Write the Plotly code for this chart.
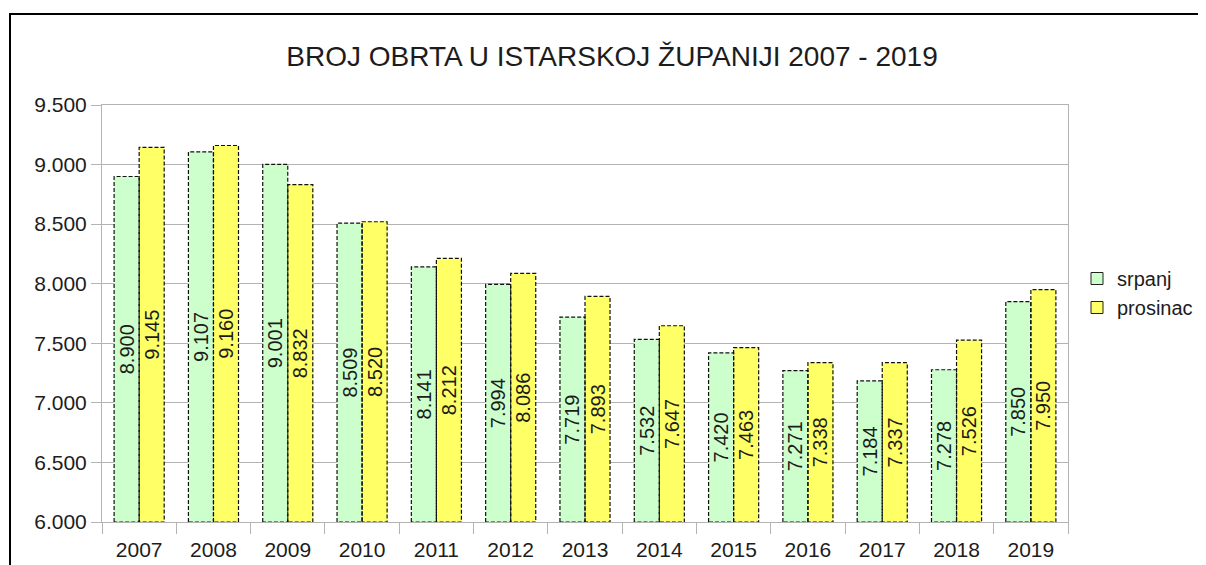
import plotly.graph_objects as go

years = ["2007", "2008", "2009", "2010", "2011", "2012", "2013",
         "2014", "2015", "2016", "2017", "2018", "2019"]
srpanj = [8900, 9107, 9001, 8509, 8141, 7994, 7719, 7532, 7420, 7271, 7184, 7278, 7850]
prosinac = [9145, 9160, 8832, 8520, 8212, 8086, 7893, 7647, 7463, 7338, 7337, 7526, 7950]
y_ticks = [6000, 6500, 7000, 7500, 8000, 8500, 9000, 9500]

FONT = "Liberation Sans"
TXT = "#1c1c1c"
GRID = "#b3b3b3"
W = 0.337
BASE = 6000

# the page body has an 8px margin: figure coords = page coords - 8
FIG_W, FIG_H = 1198, 557
L, T, R, B = 94, 97, 138, 43
PW = FIG_W - L - R
PH = FIG_H - T - B

idx = list(range(len(years)))

fig = go.Figure()

def outline(values, offset):
    xs, ys = [], []
    for i, v in zip(idx, values):
        x0 = i + offset
        x1 = x0 + W
        xs += [x0, x0, x1, x1, x0, None]
        ys += [BASE, v, v, BASE, BASE, None]
    return xs, ys

series = [("srpanj", srpanj, "#ccffcc", -W), ("prosinac", prosinac, "#ffff66", 0.0)]

for name, vals, color, off in series:
    fig.add_trace(go.Bar(
        x=idx, y=[v - BASE for v in vals], base=BASE, name=name,
        width=W, offset=off, showlegend=False,
        marker=dict(color=color, line=dict(width=0)),
        text=vals, texttemplate="%{text:,}", textposition="inside",
        insidetextanchor="middle", textangle=-90,
        textfont=dict(family=FONT, size=20, color=TXT),
        hoverinfo="skip",
    ))
    xs, ys = outline(vals, off)
    fig.add_trace(go.Scatter(
        x=xs, y=ys, mode="lines", showlegend=False, hoverinfo="skip",
        line=dict(color="#111111", width=1.2, dash="4px,2px"),
        connectgaps=False,
    ))

for name, vals, color, off in series:
    fig.add_trace(go.Scatter(
        x=[None], y=[None], mode="markers", name=name,
        marker=dict(symbol="square", size=12, color=color,
                    line=dict(color="#222222", width=1)),
    ))

fig.update_layout(
    width=FIG_W, height=FIG_H,
    margin=dict(l=L, r=R, t=T, b=B, autoexpand=False),
    paper_bgcolor="white", plot_bgcolor="white",
    separators=",.",
    barmode="overlay",
    uniformtext=dict(minsize=20, mode="show"),
    title=dict(text="BROJ OBRTA U ISTARSKOJ ŽUPANIJI 2007 - 2019",
               font=dict(family=FONT, size=28, color=TXT),
               x=(612 - 8) / FIG_W, xanchor="center", xref="container",
               y=1 - (56 - 8) / FIG_H, yanchor="middle", yref="container"),
    legend=dict(x=(1069 - L) / PW, xanchor="left",
                y=(FIG_H - B - 285) / PH, yanchor="middle",
                font=dict(family=FONT, size=20, color=TXT),
                itemwidth=30, bgcolor="rgba(0,0,0,0)"),
    showlegend=True,
    font=dict(family=FONT, color=TXT),
)

fig.update_xaxes(
    range=[-0.5, len(years) - 0.5],
    tickmode="array", tickvals=idx, ticktext=years,
    ticks="", showgrid=False, zeroline=False,
    tickfont=dict(family=FONT, size=21, color=TXT),
    ticklabelstandoff=9,
    showline=True, linecolor=GRID, linewidth=1, mirror=True,
    minor=dict(tickmode="linear", tick0=-0.5, dtick=1, ticks="outside",
               ticklen=11, tickcolor=GRID, tickwidth=1, showgrid=False),
    fixedrange=True,
)
fig.update_yaxes(
    range=[6000, 9500],
    tickmode="array", tickvals=y_ticks,
    tickformat=",d",
    ticks="outside", ticklen=10, tickcolor=GRID, tickwidth=1,
    showgrid=True, gridcolor=GRID, gridwidth=1,
    zeroline=False,
    showline=True, linecolor=GRID, linewidth=1, mirror=True,
    tickfont=dict(family=FONT, size=21, color=TXT),
    fixedrange=True,
)

# outer black frame of the original picture (page x=10, y=14)
fig.add_shape(type="rect", xref="paper", yref="paper",
              x0=(2 - L) / PW, x1=1.4, y0=-0.5, y1=(FIG_H - B - 6) / PH,
              line=dict(color="black", width=2), fillcolor="rgba(0,0,0,0)",
              layer="below")

fig.write_html("out.html")
